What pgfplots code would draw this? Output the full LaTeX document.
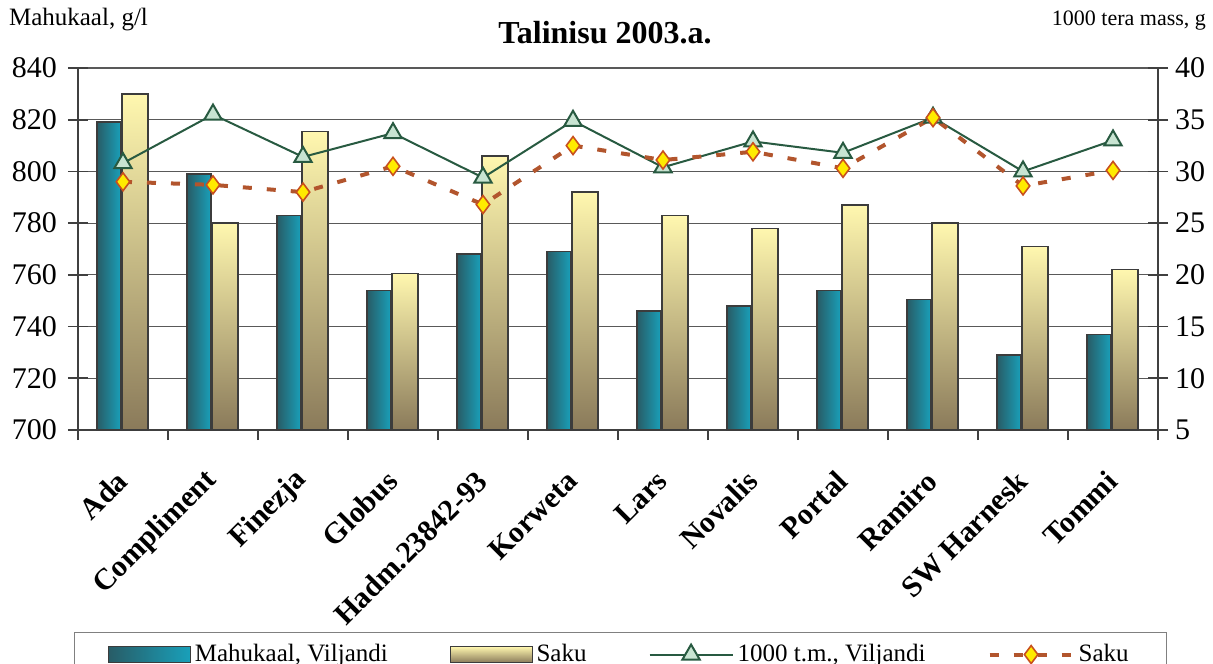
\documentclass[border=0pt]{standalone}
\usepackage{pgfplots}
\pgfplotsset{compat=1.18}
\usepackage{fontspec}
\setmainfont{Liberation Serif}

\definecolor{tealL}{RGB}{40,92,102}
\definecolor{tealR}{RGB}{25,160,186}
\definecolor{sakuTop}{RGB}{255,247,175}
\definecolor{sakuBot}{RGB}{138,122,90}
\definecolor{barEdge}{RGB}{60,60,60}
\definecolor{greenLine}{RGB}{40,90,65}
\definecolor{triFill}{RGB}{200,228,210}
\definecolor{sakuLine}{RGB}{178,85,45}
\definecolor{diamFill}{RGB}{255,235,0}
\definecolor{diamEdge}{RGB}{200,80,30}

\begin{document}
\begin{tikzpicture}
\pgfplotsset{
  base/.style={
    width=540pt, height=181pt, scale only axis,
    xmin=-0.5, xmax=11.5,
    /pgf/number format/assume math mode=true,
    tick label style={font=\fontsize{15}{15}\selectfont},
    axis line style={black!75, line width=0.8pt},
    major tick length=10pt,
    ytick align=center,
    tick style={black!75, line width=0.8pt},
  },
  vil/.style={ybar, bar width=12pt, bar shift=-7pt, draw=barEdge, line width=0.8pt,
    left color=tealL, right color=tealR, forget plot},
  sak/.style={ybar, bar width=13pt, bar shift=6pt, draw=barEdge, line width=0.8pt,
    top color=sakuTop, bottom color=sakuBot, forget plot},
}
% left axis: volume weight (bars), one plot per bar so each bar gets its own shading
\begin{axis}[base, name=ax,
    ymin=700, ymax=840, ytick={700,720,...,840},
    axis y line*=left, axis x line*=bottom,
    yticklabel style={xshift=-2pt},
    ymajorgrids, grid style={black!65, line width=0.6pt},
    xtick={0,...,11},
    xticklabels={Ada,Compliment,Finezja,Globus,Hadm.23842-93,Korweta,Lars,Novalis,Portal,Ramiro,SW Harnesk,Tommi},
    xticklabel style={rotate=45, anchor=east, xshift=-6pt, yshift=-9pt,
      font=\bfseries\fontsize{15}{15}\selectfont},
    major x tick style={draw=none},
    minor xtick={-0.5,0.5,...,11.5},
    minor tick length=5pt, xtick align=outside,
  ]
% Mahukaal, Viljandi
\addplot[vil] coordinates {(0,819)};
\addplot[vil] coordinates {(1,799)};
\addplot[vil] coordinates {(2,783)};
\addplot[vil] coordinates {(3,754)};
\addplot[vil] coordinates {(4,768)};
\addplot[vil] coordinates {(5,769)};
\addplot[vil] coordinates {(6,746)};
\addplot[vil] coordinates {(7,748)};
\addplot[vil] coordinates {(8,754)};
\addplot[vil] coordinates {(9,750.5)};
\addplot[vil] coordinates {(10,729)};
\addplot[vil] coordinates {(11,737)};
% Mahukaal, Saku
\addplot[sak] coordinates {(0,830)};
\addplot[sak] coordinates {(1,780)};
\addplot[sak] coordinates {(2,815.5)};
\addplot[sak] coordinates {(3,760.5)};
\addplot[sak] coordinates {(4,806)};
\addplot[sak] coordinates {(5,792)};
\addplot[sak] coordinates {(6,783)};
\addplot[sak] coordinates {(7,778)};
\addplot[sak] coordinates {(8,787)};
\addplot[sak] coordinates {(9,780)};
\addplot[sak] coordinates {(10,771)};
\addplot[sak] coordinates {(11,762)};
\end{axis}

% right axis: 1000 kernel weight (lines)
\begin{axis}[base,
    ymin=5, ymax=40, ytick={5,10,...,40},
    axis y line*=right, axis x line=none,
    legend columns=4,
    legend cell align=left,
    legend image code/.code={\draw[mark repeat=2,mark phase=2,#1] plot coordinates {(0pt,0pt) (20.75pt,0pt) (41.5pt,0pt)};},
    legend style={at={(-0.004,-0.558)}, anchor=north west, draw=black!50,
      font=\fontsize{12.5}{12.5}\selectfont, inner xsep=17pt, inner ysep=4pt,
      /tikz/every even column/.append style={column sep=29pt}},
  ]
\addlegendimage{legend image code/.code={\draw[draw=barEdge,left color=tealL,right color=tealR] (0pt,-4pt) rectangle (41pt,4pt);}}
\addlegendentry{Mahukaal, Viljandi}
\addlegendimage{legend image code/.code={\draw[draw=barEdge,top color=sakuTop,bottom color=sakuBot] (0pt,-4pt) rectangle (41pt,4pt);}}
\addlegendentry{Saku}
\addplot[greenLine, line width=1pt, mark=triangle*, mark size=5pt,
  mark options={fill=triFill, draw=greenLine}] coordinates {
  (0,30.8) (1,35.5) (2,31.4) (3,33.7) (4,29.4) (5,34.9)
  (6,30.4) (7,32.9) (8,31.8) (9,35.2) (10,30.0) (11,33.0)
};
\addlegendentry{1000 t.m., Viljandi}
\addplot[sakuLine, line width=2pt, dash pattern=on 4.5pt off 7.5pt,
  mark=diamond*, mark size=4.5pt,
  mark options={solid, fill=diamFill, draw=diamEdge, line width=0.8pt}] coordinates {
  (0,29.0) (1,28.7) (2,28.0) (3,30.5) (4,26.8) (5,32.5)
  (6,31.1) (7,31.9) (8,30.3) (9,35.2) (10,28.6) (11,30.1)
};
\addlegendentry{Saku}
\end{axis}

\node[anchor=base west, font=\fontsize{12.5}{12.5}\selectfont] at ([shift={(-38pt,21pt)}]ax.north west) {Mahukaal, g/l};
\node[anchor=base east, font=\fontsize{11}{11}\selectfont] at ([shift={(27.5pt,21pt)}]ax.north east) {1000 tera mass, g};
\node[anchor=base, font=\bfseries\fontsize{16}{16}\selectfont] at ([shift={(-6.5pt,12pt)}]ax.north) {Talinisu 2003.a.};

\pgfresetboundingbox
\path ([shift={(-39pt,-116.5pt)}]ax.south west) rectangle ([shift={(27.5pt,34pt)}]ax.north east);
\end{tikzpicture}
\end{document}
